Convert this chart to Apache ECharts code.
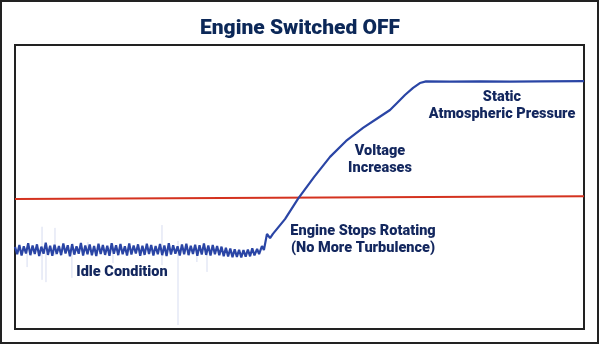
<!DOCTYPE html>
<html>
<head>
<meta charset="utf-8">
<script src="https://cdn.jsdelivr.net/npm/echarts@6/dist/echarts.min.js"></script>
<style>
  html, body { margin: 0; padding: 0; background: #ffffff; }
  #chart { width: 600px; height: 345px; }
</style>
</head>
<body>
<div id="chart"></div>
<script>
// ---- Data (sample index on x, signal level in % of screen range on y) ----
const chartTitle = 'Engine Switched OFF';

// Idle oscillation: one sample per index, starting at index 0
const idleSamples = [
  28.9, 26.3, 29.6, 25.9, 29.1, 26.6, 30.2, 26.0, 29.4, 26.4,
  29.8, 25.7, 29.0, 26.5, 30.4, 26.1, 29.3, 25.8, 29.7, 26.4,
  29.2, 26.0, 30.1, 26.6, 29.5, 25.6, 29.9, 26.2, 29.1, 26.5,
  30.3, 25.9, 29.4, 26.3, 29.8, 26.0, 29.2, 25.7, 30.0, 26.4,
  29.6, 26.1, 29.3, 25.8, 30.2, 26.5, 29.5, 26.0, 29.9, 26.3,
  29.1, 25.9, 30.1, 26.2, 29.4, 26.6, 29.8, 25.8, 29.3, 26.1,
  30.0, 26.4, 29.6, 25.9, 29.2, 26.3, 29.9, 26.0, 29.4, 25.7,
  30.2, 26.2, 29.5, 26.5, 29.1, 25.9, 29.8, 26.3, 30.0, 26.0,
  29.3, 26.4, 29.7, 25.8, 29.5, 26.2, 30.1, 26.1, 29.4, 25.9,
  29.6, 26.3, 29.2, 26.0, 29.0, 25.6, 28.6, 25.5, 28.3, 25.3,
  28.1, 25.4, 27.9, 25.2, 27.8, 25.5, 28.0, 25.6, 28.4, 25.9
];

// After the engine stops: rise to static atmospheric pressure
const releaseTime  = [110.2, 111.1, 112.4, 113.3, 114.7, 116.1, 117.4, 122.9, 128.8, 136.1, 143.4, 150.7, 158.4, 165.2, 170.7, 173.9, 177.5, 181.2, 184.3, 187.1, 198.0, 211.7, 225.3, 239.0, 259.0];
const releaseLevel = [28.2, 26.4, 29.2, 27.8, 33.5, 32.0, 33.5, 38.7, 45.8, 53.5, 60.6, 66.2, 70.8, 74.3, 77.1, 79.6, 82.4, 84.9, 86.6, 87.2, 87.1, 87.2, 87.1, 87.2, 87.3];

// Reference (threshold) line
const refTime  = [0, 259];
const refLevel = [45.8, 46.7];

// Faint spikes in the idle trace
const spikeTime   = [5.5, 12.3, 14.1, 18.2, 25.9, 33.2, 44.6, 66.9, 74.2, 82.8, 87.4];
const spikeTop    = [27.8, 36.0, 29.0, 35.6, 28.0, 30.6, 30.0, 36.6, 31.0, 28.0, 28.0];
const spikeBottom = [21.8, 17.3, 16.5, 26.0, 18.0, 26.0, 23.2, 22.5, 1.4, 23.6, 20.1];

// Annotations
const notes = [
  { text: 'Idle Condition', x: 122, y: 272 },
  { text: 'Engine Stops Rotating\n(No More Turbulence)', x: 363, y: 240 },
  { text: 'Voltage\nIncreases', x: 380, y: 160 },
  { text: 'Static\nAtmospheric Pressure', x: 502, y: 106 }
];

// ---- Build ----
const traceData = idleSamples.map((v, i) => [i, v])
  .concat(releaseTime.map((t, k) => [t, releaseLevel[k]]));
const refData = refTime.map((t, k) => [t, refLevel[k]]);
const spikeData = spikeTime.map((t, k) => [t, spikeTop[k], spikeBottom[k]]);

const textColor = '#13275e';
const chart = echarts.init(document.getElementById('chart'), null, { renderer: 'canvas' });
chart.setOption({
  backgroundColor: '#ffffff',
  animation: false,
  title: {
    text: chartTitle,
    left: 'center',
    top: 13,
    textStyle: { fontFamily: 'Roboto', fontWeight: 900, fontSize: 21, color: '#0c2858' }
  },
  grid: {
    left: 15, right: 16, top: 45, bottom: 16,
    show: true, borderColor: '#222222', borderWidth: 2, backgroundColor: '#ffffff'
  },
  xAxis: { type: 'value', min: 0, max: 259, show: false },
  yAxis: { type: 'value', min: 0, max: 100, show: false },
  series: [
    {
      type: 'custom',
      data: spikeData,
      silent: true,
      z: 1,
      renderItem: function (params, api) {
        const p1 = api.coord([api.value(0), api.value(1)]);
        const p2 = api.coord([api.value(0), api.value(2)]);
        return {
          type: 'line',
          shape: { x1: p1[0], y1: p1[1], x2: p2[0], y2: p2[1] },
          style: { stroke: 'rgba(120,140,205,0.3)', lineWidth: 1 }
        };
      }
    },
    {
      type: 'line',
      data: refData,
      symbol: 'none',
      z: 2,
      lineStyle: { color: '#d4321f', width: 2 }
    },
    {
      type: 'line',
      data: traceData,
      symbol: 'none',
      z: 3,
      lineStyle: { color: '#2a45a5', width: 2.2 }
    }
  ],
  graphic: [
    {
      type: 'rect',
      shape: { x: 1, y: 1, width: 597, height: 342 },
      style: { fill: 'none', stroke: '#222222', lineWidth: 2 },
      silent: true
    }
  ].concat(notes.map(n => ({
    type: 'text',
    x: n.x,
    y: n.y,
    silent: true,
    style: {
      text: n.text,
      fontFamily: 'Roboto',
      fontWeight: 900,
      fontSize: 14.5,
      lineHeight: 17,
      fill: textColor,
      align: 'center',
      verticalAlign: 'middle'
    }
  })))
});
</script>
</body>
</html>
